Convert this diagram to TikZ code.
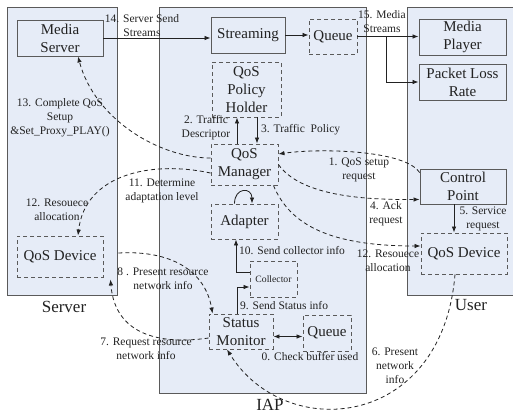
\documentclass[tikz,border=0pt]{standalone}
\usepackage{fontspec}
\setmainfont{Liberation Serif}
\usetikzlibrary{arrows.meta,calc}
\definecolor{panelfill}{HTML}{E6ECF7}
\definecolor{edge}{HTML}{5A5A5A}
\definecolor{ink}{HTML}{222222}
\begin{document}
\begin{tikzpicture}[x=1pt,y=-1pt,
  every node/.style={font=\rmfamily},
  panel/.style={draw=edge,fill=panelfill,line width=0.9pt},
  solidbox/.style={draw=edge,line width=0.9pt,align=center,inner sep=0pt,
    font=\rmfamily\fontsize{15}{18}\selectfont,text=ink},
  dashbox/.style={solidbox,dash pattern=on 4pt off 3pt},
  lbl/.style={align=center,inner sep=0pt,font=\rmfamily\fontsize{11.5}{14}\selectfont,text=ink},
  title/.style={inner sep=0pt,font=\rmfamily\fontsize{17}{20}\selectfont,text=ink},
  arr/.style={draw=ink,line width=0.8pt,-{Latex[length=6pt,width=4.5pt]}},
  darr/.style={arr,dash pattern=on 4pt off 3pt},
]
\useasboundingbox (0,0) rectangle (513,415);

% three panels
\draw[panel] (7,7) rectangle (117,295);
\draw[panel] (159,7) rectangle (366,393);
\draw[panel] (407,7) rectangle (520,295);
\node[title] (tserver) at (64,307) {Server};
\node[title] (tiap) at (270,405) {IAP};
\node[title] (tuser) at (471,305) {User};

% server side
\node[solidbox,minimum width=86,minimum height=36] (mserver) at (60,38) {Media\\Server};
\node[dashbox,minimum width=86,minimum height=41] (qdevs) at (60,256.5) {QoS Device};

% IAP side
\node[solidbox,minimum width=74,minimum height=36] (stream) at (248,35) {Streaming};
\node[dashbox,minimum width=48,minimum height=35] (qtop) at (333,36.5) {Queue};
\node[dashbox,minimum width=69,minimum height=55] (policy) at (246.5,89.5) {QoS\\Policy\\Holder};
\node[dashbox,minimum width=67,minimum height=41] (mgr) at (244.5,164.5) {QoS\\Manager};
\node[dashbox,minimum width=67,minimum height=35] (adapt) at (244.5,221.5) {Adapter};
\node[dashbox,minimum width=47,minimum height=36,font=\rmfamily\fontsize{9.7}{12}\selectfont] (coll) at (273.5,279) {Collector};
\node[dashbox,minimum width=64,minimum height=35] (status) at (241,331.5) {Status\\Monitor};
\node[dashbox,minimum width=48,minimum height=36] (qbot) at (327,333) {Queue};

% user side
\node[solidbox,minimum width=87,minimum height=36] (player) at (462.5,37) {Media\\Player};
\node[solidbox,minimum width=87,minimum height=36] (plr) at (462.5,82) {Packet Loss\\Rate};
\node[solidbox,minimum width=86,minimum height=35] (cp) at (463,186.5) {Control\\Point};
\node[dashbox,minimum width=86,minimum height=41] (qdevu) at (464,253.5) {QoS Device};

% media streams
\draw[arr] (mserver.east) -- (mserver.east -| stream.west);
\node[lbl] (l14) at (142,26) {14. Server Send\\Streams};
\draw[arr] (stream.east) -- (stream.east -| qtop.west);
\coordinate (br) at (386,36.5);
\draw[arr] (qtop.east) -- (qtop.east -| player.west);
\draw[arr] (br) |- (plr.west);
\node[lbl] (l15) at (382,22) {15. Media\\Streams};

% policy exchange
\draw[arr] ([xshift=-7.5pt]mgr.north) -- ([xshift=-7.5pt]mgr.north |- policy.south);
\draw[arr] ([xshift=12.5pt]mgr.north |- policy.south) -- ([xshift=12.5pt]mgr.north);
\node[lbl] (l2) at (206,128) {2. Traffic\\Descriptor};
\node[lbl,anchor=west] (l3) at (261,130) {3. Traffic\ \ Policy};

% setup signalling
\draw[darr] ([yshift=6.5pt]mgr.west) .. controls (160,158) and (95,120) .. ([xshift=18pt]mserver.south);
\node[lbl] (l13) at (60,118) {13. Complete QoS\\Setup\\\&Set\_Proxy\_PLAY()};

\draw[darr] ([yshift=-4pt]cp.north west) .. controls (405,150) and (320,148) .. ([yshift=10.5pt]mgr.east);
\node[lbl] (l1) at (359,170) {1. QoS setup\\request};

\draw[darr] (mgr.east) .. controls (300,195) and (360,200) .. ([yshift=5pt]cp.south west);
\node[lbl] (l4) at (386,214) {4. Ack\\request};

\draw[arr] ([xshift=-9pt]cp.south) -- ([xshift=-9pt]cp.south |- qdevu.north);
\node[lbl] (l5) at (483,219) {5. Service\\request};

\draw[darr] ([xshift=-5pt]mgr.south east) .. controls (290,225) and (330,246) .. ([yshift=7.5pt]qdevu.west);
\node[lbl] (l12u) at (388,261) {12. Resouece\\allocation};

\draw[darr] ([yshift=-8.5pt]mgr.west) .. controls (150,160) and (85,175) .. ([xshift=18pt]qdevs.north);
\node[lbl] (l11) at (162,191) {11. Determine\\adaptation level};
\node[lbl] (l12s) at (57,210) {12. Resouece\\allocation};

% adaptation loop
\draw[arr] ([xshift=-10pt]adapt.north) .. controls (234.5,187) and (252,187) .. ([xshift=7.5pt]adapt.north);

% collector and status reports
\draw[arr] ([yshift=7pt]coll.west) -| ([xshift=-8.5pt]adapt.south);
\node[lbl,anchor=west] (l10) at (239,251) {10. Send collector info};
\draw[arr] ([xshift=-4pt]status.north) |- ([yshift=-8pt]coll.west);
\node[lbl,anchor=west] (l9) at (240,306) {9. Send Status info};

\draw[draw=ink,line width=0.8pt,{Latex[length=6pt,width=4.5pt]}-{Latex[length=6pt,width=4.5pt]}]
  ([yshift=-5pt]status.east) -- ([yshift=-5pt]status.east -| qbot.west);
\node[lbl] (l0) at (310,357) {0. Check buffer used};

% resource information
\coordinate (s8) at ([shift={(15pt,3.5pt)}]qdevs.east);
\draw[darr] (s8) .. controls (170,250) and (205,270) .. ([xshift=4pt]status.north west);
\node[lbl] (l8) at (163,279) {8 . Present resource\\network info};

\draw[darr] ([yshift=-6.5pt]status.west) .. controls (160,345) and (115,335) .. ([shift={(7pt,-2pt)}]qdevs.south east);
\node[lbl] (l7) at (146,349) {7. Request resource\\network info};

\draw[darr] ([xshift=-9pt]qdevu.south) .. controls (442,430) and (285,443) .. ([xshift=-14pt]status.south);
\node[lbl] (l6) at (395,366) {6. Present\\network\\info};
\end{tikzpicture}
\end{document}
